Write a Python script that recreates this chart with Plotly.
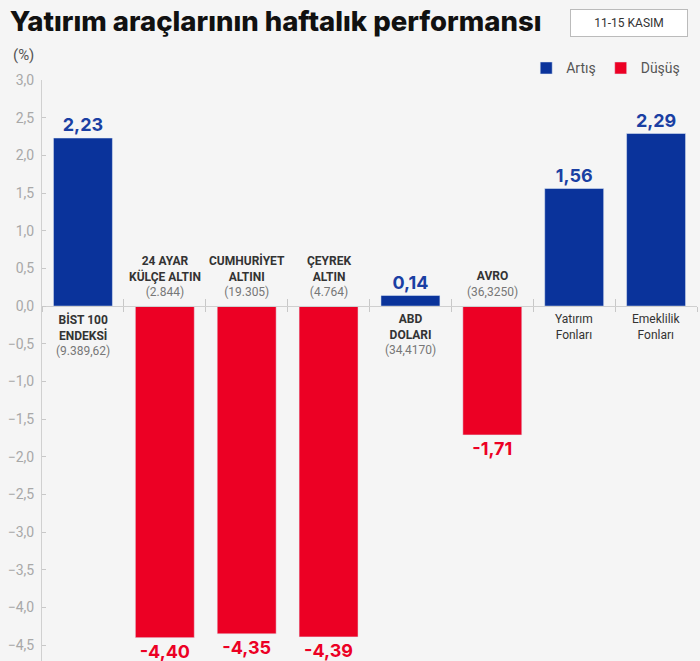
import plotly.graph_objects as go

# haftalık değişim (%), 11-15 Kasım
categories = ["BİST 100 ENDEKSİ", "24 AYAR KÜLÇE ALTIN", "CUMHURİYET ALTINI",
              "ÇEYREK ALTIN", "ABD DOLARI", "AVRO", "Yatırım Fonları", "Emeklilik Fonları"]
label_lines = [["BİST 100", "ENDEKSİ"], ["24 AYAR", "KÜLÇE ALTIN"], ["CUMHURİYET", "ALTINI"],
               ["ÇEYREK", "ALTIN"], ["ABD", "DOLARI"], ["AVRO"], ["Yatırım", "Fonları"],
               ["Emeklilik", "Fonları"]]
prices = ["9.389,62", "2.844", "19.305", "4.764", "34,4170", "36,3250", None, None]
changes = [2.23, -4.40, -4.35, -4.39, 0.14, -1.71, 1.56, 2.29]

BLUE = "#0a339b"
RED = "#ec0024"
BG = "#f5f5f5"

def fmt(v):
    return f"{v:.2f}".replace(".", ",")

up = [v if v >= 0 else None for v in changes]
down = [v if v < 0 else None for v in changes]

fig = go.Figure()
fig.add_trace(go.Bar(
    x=categories, y=up, name="Artış", marker_color=BLUE,
    text=[fmt(v) if v is not None else "" for v in up],
    textposition="outside", cliponaxis=False, constraintext="none",
    textfont=dict(family="Inter", size=18, color="#1a3fa3", weight=700),
))
fig.add_trace(go.Bar(
    x=categories, y=down, name="Düşüş", marker_color=RED,
    text=[fmt(v) if v is not None else "" for v in down],
    textposition="outside", cliponaxis=False, constraintext="none",
    textfont=dict(family="Inter", size=18, color=RED, weight=700),
))

# kategori etiketleri: pozitiflerde sıfırın altında, negatiflerde üstünde
for cat, lines, price, v in zip(categories, label_lines, prices, changes):
    if price is None:
        txt = "<br>".join(lines)
        fnt = dict(family="Roboto", size=12, color="#333")
    else:
        txt = "<br>".join(f"<b>{l}</b>" for l in lines)
        txt += f"<br><span style='color:#777'>({price})</span>"
        fnt = dict(family="Roboto", size=12, color="#333")
    fig.add_annotation(
        x=cat, y=0, xref="x", yref="y", text=txt, showarrow=False,
        yanchor="top" if v >= 0 else "bottom", yshift=-4 if v >= 0 else 5,
        font=fnt, align="center",
    )

fig.add_annotation(xref="paper", yref="paper", x=-0.048, y=1.043, text="(%)",
                   showarrow=False, xanchor="left", yanchor="middle",
                   font=dict(family="Roboto", size=15, color="#555"))
fig.add_annotation(xref="paper", yref="paper", x=0.896, y=1.098, text="11-15 KASIM",
                   showarrow=False, xanchor="center", yanchor="middle",
                   font=dict(family="Roboto", size=12, color="#333"),
                   bgcolor="white", bordercolor="#bbb", borderwidth=1, borderpad=6,
                   width=104)

y0, y1 = -4.71, 3.0
zero_pos = (0 - y0) / (y1 - y0)

fig.update_layout(
    width=700, height=661,
    margin=dict(l=42, r=3, t=80, b=0),
    paper_bgcolor=BG, plot_bgcolor=BG,
    barmode="relative", bargap=0.28,
    separators=",.",
    title=dict(text="Yatırım araçlarının haftalık performansı",
               x=0.014, xanchor="left", y=0.967, yanchor="middle",
               font=dict(family="Inter", size=27.5, color="#111", weight=800)),
    legend=dict(orientation="h", x=0.982, xanchor="right", y=1.02, yanchor="middle",
                font=dict(family="Roboto", size=14, color="#555"),
                bgcolor="rgba(0,0,0,0)", itemwidth=30, traceorder="normal"),
    yaxis=dict(range=[y0, y1], tickvals=[3, 2.5, 2, 1.5, 1, 0.5, 0, -0.5, -1, -1.5, -2,
                                           -2.5, -3, -3.5, -4, -4.5],
               tickformat=".1f", showgrid=False, zeroline=False,
               showline=True, linecolor="#d0d0d0", linewidth=1,
               ticks="inside", ticklen=4, tickcolor="#c8c8c8",
               tickfont=dict(family="Roboto", size=14, color="#a8a8a8"),
               ticklabelstandoff=4),
    xaxis=dict(anchor="free", position=zero_pos, showticklabels=False,
               showgrid=False, zeroline=False, showline=True, linecolor="#cfcfcf",
               ticks="outside", ticklen=5, tickcolor="#c8c8c8", tickson="boundaries",
               range=[-0.5, 7.5]),
    xaxis2=dict(overlaying="x", anchor="free", position=zero_pos, side="bottom",
                showticklabels=False, showgrid=False, zeroline=False, showline=False,
                ticks="inside", ticklen=7, tickcolor="#c8c8c8", tickson="boundaries",
                matches="x", type="category"),
)
# boş bir iz: xaxis2 görünsün diye
fig.add_trace(go.Bar(x=categories, y=[None] * len(categories), xaxis="x2",
                     showlegend=False, hoverinfo="skip"))

fig.write_html("out.html", config={"displayModeBar": False},
               post_script="document.body.style.margin='0';")
